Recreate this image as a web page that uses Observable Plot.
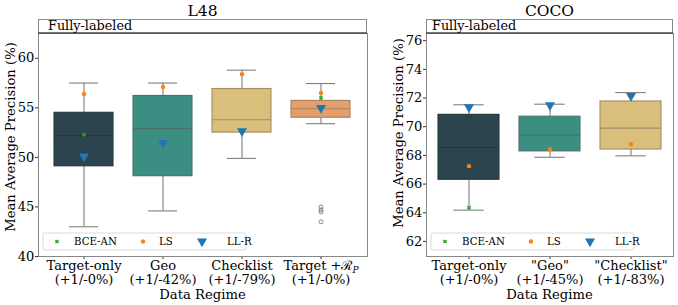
<!DOCTYPE html>
<html><head><meta charset="utf-8">
<script src="https://cdn.jsdelivr.net/npm/d3@7"></script>
<script src="https://cdn.jsdelivr.net/npm/@observablehq/plot@0.6"></script>
<style>
body{margin:0;background:#fff;}
#wrap{display:flex;width:678px;height:305px;overflow:hidden;}
svg{display:block;}
</style></head><body><div id="wrap"></div>
<script>
// ---------------- data ----------------
const l48Title = "L48";
const l48Regimes = ["Target-only", "Geo", "Checklist", "Target+R"];
const l48TickLabels = ["Target-only\n(+1/-0%)", "Geo\n(+1/-42%)", "Checklist\n(+1/-79%)", "Target +ℛ_P\n(+1/-0%)"];
const l48WhiskerLow  = [43.0, 44.6, 49.9, 53.4];
const l48Q1          = [49.1, 48.1, 52.5, 54.0];
const l48Median      = [52.2, 52.9, 53.8, 54.9];
const l48Q3          = [54.5, 56.2, 56.9, 55.7];
const l48WhiskerHigh = [57.5, 57.5, 58.8, 57.45];
const l48OutlierRegime = ["Target+R", "Target+R", "Target+R", "Target+R"];
const l48OutlierValue  = [45.0, 44.7, 44.5, 43.5];
const l48BCE = [52.3, null, null, 56.0];
const l48LS  = [56.4, 57.1, 58.4, 56.5];
const l48LLR = [50.1, 51.45, 52.65, 55.0];
const l48YTicks = [40, 45, 50, 55, 60];

const cocoTitle = "COCO";
const cocoRegimes = ["Target-only", "Geo", "Checklist"];
const cocoTickLabels = ["Target-only\n(+1/-0%)", "\"Geo\"\n(+1/-45%)", "\"Checklist\"\n(+1/-83%)"];
const cocoWhiskerLow  = [64.18, 67.87, 67.97];
const cocoQ1          = [66.3, 68.28, 68.41];
const cocoMedian      = [68.55, 69.4, 69.9];
const cocoQ3          = [70.83, 70.7, 71.76];
const cocoWhiskerHigh = [71.53, 71.57, 72.38];
const cocoOutlierRegime = [];
const cocoOutlierValue  = [];
const cocoBCE = [64.35, null, null];
const cocoLS  = [67.25, 68.43, 68.78];
const cocoLLR = [71.36, 71.5, 72.15];
const cocoYTicks = [62, 64, 66, 68, 70, 72, 74, 76];

const methods = ["BCE-AN", "LS", "LL-R"];
const stripLabel = "Fully-labeled";
const yLabel = "Mean Average Precision (%)";
const xLabel = "Data Regime";

// ---------------- styles ----------------
const boxFill = {"Target-only": "#2b444e", "Geo": "#3a8f82", "Checklist": "#d9bf7b", "Target+R": "#e4a06c"};
const boxEdge = {"Target-only": "#26363d", "Geo": "#4d6f6a", "Checklist": "#9f8e64", "Target+R": "#a6805f"};
const whiskerColor = "#7f7f7f";
const cBCE = "#2ca02c", cLS = "#ff7f0e", cLLR = "#1f77b4";
const FONT = "DejaVu Serif";
const TICK_FS = 13, LABEL_FS = 13.2;

function panel(cfg) {
  const {width, mL, mR, mT, mB, height, regimes, tickLabels, yDomain, yTicks, padOuter,
         lo, q1, med, q3, hi, outR, outV, bce, ls, llr, title, stripDx, yLabelX, yLabelY} = cfg;
  const plotW = width - mL - mR;
  const n = regimes.length;
  const step = plotW / (n - 0.25 + 2 * padOuter);
  const bw = step * 0.75;
  const boxes = regimes.map((r, i) => ({regime: r, lo: lo[i], q1: q1[i], med: med[i], q3: q3[i], hi: hi[i]}));
  const outliers = outR.map((r, i) => ({regime: r, value: outV[i]}));
  const bceData = regimes.map((r, i) => ({regime: r, value: bce[i]})).filter(d => d.value != null);
  const lsData = regimes.map((r, i) => ({regime: r, value: ls[i]}));
  const llrData = regimes.map((r, i) => ({regime: r, value: llr[i]}));
  const labelOf = d => tickLabels[regimes.indexOf(d)];
  const cx = mL + plotW / 2;

  const decor = () => {
    const g = d3.create("svg:g").attr("font-family", FONT);
    // title
    g.append("text").attr("x", cx).attr("y", 15.5).attr("text-anchor", "middle")
      .attr("font-size", 15.5).attr("fill", "#000").text(title);
    // strip
    g.append("rect").attr("x", mL + 0.5).attr("y", 19.5).attr("width", plotW - 1).attr("height", mT - 19.5)
      .attr("fill", "#fff").attr("stroke", "#8a8a8a").attr("stroke-width", 1);
    g.append("line").attr("x1", mL).attr("x2", mL + plotW).attr("y1", mT).attr("y2", mT)
      .attr("stroke", "#262626").attr("stroke-width", 1.2);
    g.append("text").attr("x", mL + stripDx).attr("y", 29.5).attr("text-anchor", "start")
      .attr("font-size", 12.8).attr("fill", "#000").text(stripLabel);
    // y label
    g.append("text").attr("transform", `translate(${yLabelX},${yLabelY}) rotate(-90)`)
      .attr("text-anchor", "middle").attr("font-size", LABEL_FS).attr("fill", "#000").text(yLabel);
    // x label
    g.append("text").attr("x", cx).attr("y", 298.5).attr("text-anchor", "middle")
      .attr("font-size", LABEL_FS).attr("fill", "#000").text(xLabel);
    // legend
    const lx = mL + 5, ly = 233;
    g.append("rect").attr("x", lx).attr("y", ly).attr("width", 203).attr("height", 17).attr("rx", 2)
      .attr("fill", "#fff").attr("fill-opacity", 0.85).attr("stroke", "#d0d0d0").attr("stroke-width", 0.8);
    const my = ly + 8.5;
    g.append("path").attr("d", d3.symbol(d3.symbolCross, 11)()).attr("fill", cBCE)
      .attr("transform", `translate(${lx + 14},${my}) rotate(45)`);
    g.append("path").attr("d", d3.symbol(d3.symbolCircle, 15)()).attr("fill", cLS)
      .attr("transform", `translate(${lx + 100},${my})`);
    g.append("path").attr("d", d3.symbol(d3.symbolTriangle, 44)()).attr("fill", cLLR)
      .attr("transform", `translate(${lx + 159},${my}) rotate(180)`);
    const tx = [31, 116, 184];
    methods.forEach((m, i) => g.append("text").attr("x", lx + tx[i]).attr("y", my + 3.6)
      .attr("text-anchor", "start").attr("font-size", 10.2).attr("fill", "#000").text(m));
    return g.node();
  };

  const svg = Plot.plot({
    width, height, marginLeft: mL, marginRight: mR, marginTop: mT, marginBottom: mB,
    style: {fontFamily: FONT, color: "#000", background: "#fff", overflow: "visible"},
    x: {type: "band", domain: regimes, paddingInner: 0.25, paddingOuter: padOuter, align: 0.5, axis: null},
    y: {domain: yDomain, axis: null},
    color: {type: "identity"},
    marks: [
      Plot.axisY({ticks: yTicks, tickSize: 3, tickPadding: 1.2, fontSize: TICK_FS, label: null, stroke: "#333"}),
      Plot.axisX({tickFormat: labelOf, tickSize: 3, tickPadding: 0.5, fontSize: TICK_FS, lineHeight: 1.1, label: null, stroke: "#333"}),
      Plot.ruleX(boxes, {x: "regime", y1: "lo", y2: "hi", stroke: whiskerColor, strokeWidth: 1.1}),
      Plot.tickY(boxes, {x: "regime", y: "lo", stroke: whiskerColor, strokeWidth: 1.1, insetLeft: bw / 4, insetRight: bw / 4}),
      Plot.tickY(boxes, {x: "regime", y: "hi", stroke: whiskerColor, strokeWidth: 1.1, insetLeft: bw / 4, insetRight: bw / 4}),
      Plot.barY(boxes, {x: "regime", y1: "q1", y2: "q3", fill: d => boxFill[d.regime], stroke: d => boxEdge[d.regime], strokeWidth: 1.1}),
      Plot.tickY(boxes, {x: "regime", y: "med", stroke: d => boxEdge[d.regime], strokeWidth: 1.1}),
      Plot.dot(outliers, {x: "regime", y: "value", r: 2, fill: "none", stroke: "#707070", strokeWidth: 0.8}),
      Plot.dot(lsData, {x: "regime", y: "value", r: 2.2, fill: cLS, stroke: "none"}),
      Plot.dot(bceData, {x: "regime", y: "value", symbol: "cross", rotate: 45, r: 1.9, fill: cBCE, stroke: "none"}),
      Plot.dot(llrData, {x: "regime", y: "value", symbol: "triangle", rotate: 180, r: 3.75, fill: cLLR, stroke: "none"}),
      Plot.frame({stroke: "#888", strokeWidth: 1}),
      decor
    ]
  });

  // subscript for the calligraphic R label
  const walker = document.createTreeWalker(svg, NodeFilter.SHOW_TEXT);
  const hits = [];
  while (walker.nextNode()) if (walker.currentNode.nodeValue.includes("ℛ_P")) hits.push(walker.currentNode);
  hits.forEach(node => {
    const [before, after] = node.nodeValue.split("_P");
    node.nodeValue = before;
    const sub = document.createElementNS("http://www.w3.org/2000/svg", "tspan");
    sub.setAttribute("font-size", "9");
    sub.setAttribute("font-style", "italic");
    sub.setAttribute("baseline-shift", "-2.5");
    sub.textContent = "P";
    node.parentNode.insertBefore(sub, node.nextSibling);
    if (after) node.parentNode.insertBefore(document.createTextNode(after), sub.nextSibling);
  });
  return svg;
}

const wrap = document.getElementById("wrap");
wrap.appendChild(panel({
  width: 385, height: 305, mL: 38, mR: 18, mT: 33, mB: 49,
  regimes: l48Regimes, tickLabels: l48TickLabels, yDomain: [40, 62.5], yTicks: l48YTicks, padOuter: 0.19,
  lo: l48WhiskerLow, q1: l48Q1, med: l48Median, q3: l48Q3, hi: l48WhiskerHigh,
  outR: l48OutlierRegime, outV: l48OutlierValue, bce: l48BCE, ls: l48LS, llr: l48LLR,
  title: l48Title, stripDx: 10, yLabelX: 15, yLabelY: 137
}));
wrap.appendChild(panel({
  width: 293, height: 305, mL: 41, mR: 5, mT: 33, mB: 49,
  regimes: cocoRegimes, tickLabels: cocoTickLabels, yDomain: [60.95, 76.5], yTicks: cocoYTicks, padOuter: 0.14,
  lo: cocoWhiskerLow, q1: cocoQ1, med: cocoMedian, q3: cocoQ3, hi: cocoWhiskerHigh,
  outR: cocoOutlierRegime, outV: cocoOutlierValue, bce: cocoBCE, ls: cocoLS, llr: cocoLLR,
  title: cocoTitle, stripDx: 6, yLabelX: 18, yLabelY: 133
}));
</script></body></html>
